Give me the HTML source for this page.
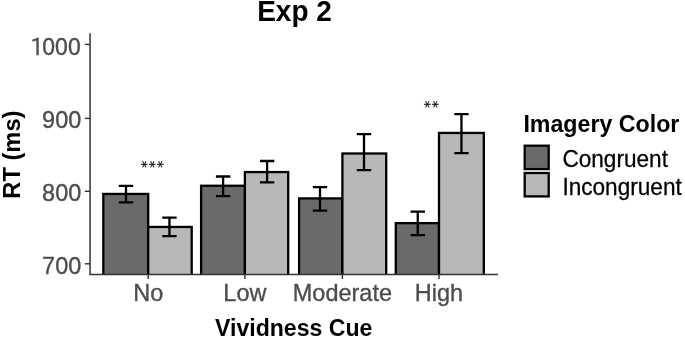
<!DOCTYPE html><html><head><meta charset="utf-8"><title>Exp 2</title><style>html,body{margin:0;padding:0;background:#fff;width:685px;height:337px;overflow:hidden}svg{display:block}text{font-family:"Liberation Sans",Arial,Helvetica,sans-serif}</style></head><body>
<svg width="685" height="337" viewBox="0 0 685 337">
<rect width="685" height="337" fill="#fff"/>
<rect x="103.30" y="193.95" width="44.90" height="86.45" fill="#6a6a6a" stroke="#000" stroke-width="2.3"/>
<rect x="148.20" y="226.95" width="43.50" height="53.45" fill="#b8b8b8" stroke="#000" stroke-width="2.3"/>
<rect x="201.10" y="185.75" width="43.80" height="94.65" fill="#6a6a6a" stroke="#000" stroke-width="2.3"/>
<rect x="244.90" y="172.05" width="43.30" height="108.35" fill="#b8b8b8" stroke="#000" stroke-width="2.3"/>
<rect x="299.10" y="198.40" width="43.30" height="82.00" fill="#6a6a6a" stroke="#000" stroke-width="2.3"/>
<rect x="342.40" y="153.50" width="43.80" height="126.90" fill="#b8b8b8" stroke="#000" stroke-width="2.3"/>
<rect x="395.80" y="223.15" width="43.20" height="57.25" fill="#6a6a6a" stroke="#000" stroke-width="2.3"/>
<rect x="439.00" y="132.95" width="44.80" height="147.45" fill="#b8b8b8" stroke="#000" stroke-width="2.3"/>
<rect x="80" y="274.90" width="430" height="14" fill="#fff"/>
<path d="M118.80 185.90H133.20M126.00 185.90V202.30M118.80 202.30H133.20" stroke="#000" stroke-width="2.3" fill="none"/>
<path d="M162.25 217.55H176.65M169.45 217.55V236.15M162.25 236.15H176.65" stroke="#000" stroke-width="2.3" fill="none"/>
<path d="M215.90 176.50H230.30M223.10 176.50V196.15M215.90 196.15H230.30" stroke="#000" stroke-width="2.3" fill="none"/>
<path d="M259.90 161.00H274.30M267.10 161.00V182.40M259.90 182.40H274.30" stroke="#000" stroke-width="2.3" fill="none"/>
<path d="M312.80 187.05H327.20M320.00 187.05V210.60M312.80 210.60H327.20" stroke="#000" stroke-width="2.3" fill="none"/>
<path d="M356.80 134.20H371.20M364.00 134.20V170.20M356.80 170.20H371.20" stroke="#000" stroke-width="2.3" fill="none"/>
<path d="M410.55 211.65H424.95M417.75 211.65V235.10M410.55 235.10H424.95" stroke="#000" stroke-width="2.3" fill="none"/>
<path d="M454.25 114.15H468.65M461.45 114.15V153.10M454.25 153.10H468.65" stroke="#000" stroke-width="2.3" fill="none"/>
<path d="M90.05 33.2V274.40H498" stroke="#333" stroke-width="1.5" fill="none"/>
<path d="M84.8 263.8H90" stroke="#333" stroke-width="1.4"/>
<text transform="translate(81.30 273.60) scale(1 1.045)" text-anchor="end" font-size="23.5" fill="#4d4d4d" stroke="#4d4d4d" stroke-width="0.35">700</text>
<path d="M84.8 191.3H90" stroke="#333" stroke-width="1.4"/>
<text transform="translate(81.30 201.10) scale(1 1.045)" text-anchor="end" font-size="23.5" fill="#4d4d4d" stroke="#4d4d4d" stroke-width="0.35">800</text>
<path d="M84.8 118.4H90" stroke="#333" stroke-width="1.4"/>
<text transform="translate(81.30 128.20) scale(1 1.045)" text-anchor="end" font-size="23.5" fill="#4d4d4d" stroke="#4d4d4d" stroke-width="0.35">900</text>
<path d="M84.8 44.4H90" stroke="#333" stroke-width="1.4"/>
<text transform="translate(80.70 54.70) scale(1 1.045)" text-anchor="end" font-size="23" fill="#4d4d4d" stroke="#4d4d4d" stroke-width="0.35"><tspan style="font-family:&quot;IPAPGothic&quot;,&quot;IPAGothic&quot;,sans-serif" font-size="22.2">1</tspan><tspan dx="-1.6">000</tspan></text>
<path d="M148.2 274.4V279" stroke="#333" stroke-width="1.4"/>
<text transform="translate(148.20 301.30) scale(1 1.045)" text-anchor="middle" font-size="23.5" fill="#4d4d4d" stroke="#4d4d4d" stroke-width="0.35">No</text>
<path d="M244.9 274.4V279" stroke="#333" stroke-width="1.4"/>
<text transform="translate(244.90 301.30) scale(1 1.045)" text-anchor="middle" font-size="23.5" fill="#4d4d4d" stroke="#4d4d4d" stroke-width="0.35">Low</text>
<path d="M342.4 274.4V279" stroke="#333" stroke-width="1.4"/>
<text transform="translate(342.40 301.30) scale(1 1.045)" text-anchor="middle" font-size="23.5" fill="#4d4d4d" stroke="#4d4d4d" stroke-width="0.35">Moderate</text>
<path d="M439.0 274.4V279" stroke="#333" stroke-width="1.4"/>
<text transform="translate(439.00 301.30) scale(1 1.045)" text-anchor="middle" font-size="23.5" fill="#4d4d4d" stroke="#4d4d4d" stroke-width="0.35">High</text>
<text transform="translate(294.50 20.60) scale(1 1.045)" text-anchor="middle" font-size="28" font-weight="bold" fill="#000">Exp 2</text>
<text transform="translate(293.70 335.60) scale(1 1.045)" text-anchor="middle" font-size="23.1" font-weight="bold" fill="#000">Vividness Cue</text>
<text transform="translate(19.90 154.60) rotate(-90) scale(1 1.045)" text-anchor="middle" font-size="23.7" font-weight="bold" fill="#000">RT (ms)</text>
<text x="141.09" y="171.56" transform="rotate(90 144.64 164.26)" style="font-family:&quot;DejaVu Sans&quot;,sans-serif;text-rendering:geometricPrecision" font-size="14.2" fill="#111" stroke="#111" stroke-width="0.2">*</text>
<text x="148.26" y="171.56" transform="rotate(90 151.81 164.26)" style="font-family:&quot;DejaVu Sans&quot;,sans-serif;text-rendering:geometricPrecision" font-size="14.2" fill="#111" stroke="#111" stroke-width="0.2">*</text>
<text x="156.25" y="171.56" transform="rotate(90 159.80 164.26)" style="font-family:&quot;DejaVu Sans&quot;,sans-serif;text-rendering:geometricPrecision" font-size="14.2" fill="#111" stroke="#111" stroke-width="0.2">*</text>
<text x="424.13" y="111.52" transform="rotate(90 427.68 104.23)" style="font-family:&quot;DejaVu Sans&quot;,sans-serif;text-rendering:geometricPrecision" font-size="14.2" fill="#111" stroke="#111" stroke-width="0.2">*</text>
<text x="431.49" y="111.52" transform="rotate(90 435.04 104.23)" style="font-family:&quot;DejaVu Sans&quot;,sans-serif;text-rendering:geometricPrecision" font-size="14.2" fill="#111" stroke="#111" stroke-width="0.2">*</text>
<text transform="translate(523.40 132.00) scale(1 1.045)" text-anchor="start" font-size="23.2" font-weight="bold" fill="#000">Imagery Color</text>
<rect x="524.7" y="145.7" width="24" height="23.4" fill="#6a6a6a" stroke="#000" stroke-width="2.3"/>
<rect x="524.7" y="173" width="24" height="23.4" fill="#b8b8b8" stroke="#000" stroke-width="2.3"/>
<text transform="translate(562.40 167.20) scale(1 1.045)" text-anchor="start" font-size="22.6" fill="#000" stroke="#000" stroke-width="0.25">Congruent</text>
<text transform="translate(562.40 194.60) scale(1 1.045)" text-anchor="start" font-size="22.6" fill="#000" stroke="#000" stroke-width="0.25">Incongruent</text>
</svg></body></html>
